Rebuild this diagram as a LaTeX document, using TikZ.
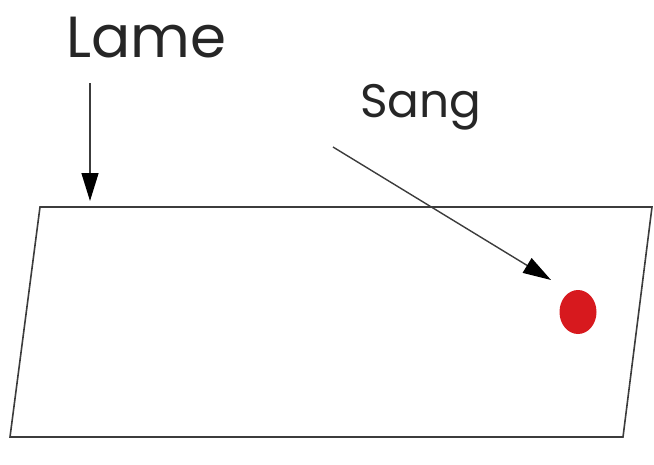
\documentclass[tikz,border=0pt]{standalone}
\usepackage{fontspec}
\setmainfont{Poppins}
\usetikzlibrary{arrows.meta,shapes.geometric}
\definecolor{inkgray}{RGB}{60,60,60}
\definecolor{blood}{RGB}{215,25,30}
\begin{document}
\begin{tikzpicture}[x=1pt,y=-1pt,
  outline/.style={draw=inkgray,line width=1.6pt,line join=miter},
  pointer/.style={draw=inkgray,line width=1.4pt,-{Triangle[length=28pt,width=17pt,color=black,fill=black]}},
  caption/.style={inner sep=0pt,anchor=base,text=black!85}]
  \useasboundingbox (0,0) rectangle (654,464);
  % glass slide drawn as a parallelogram
  \coordinate (tl) at (40,207);
  \coordinate (tr) at (652,207);
  \coordinate (br) at (623,437);
  \coordinate (bl) at (10,437);
  \draw[outline] (tl) -- (tr) -- (br) -- (bl) -- cycle;
  % blood drop
  \node[ellipse,fill=blood,minimum width=37pt,minimum height=44pt,inner sep=0pt] (drop) at (578,312) {};
  % labels
  \node[caption,font=\fontsize{58}{58}\selectfont] (lame) at (146,57) {Lame};
  \node[caption,font=\fontsize{47}{47}\selectfont] (sang) at (421,117) {Sang};
  \coordinate (lameA) at (90,83);
  \coordinate (lameB) at (90,201);
  \coordinate (sangA) at (333,147);
  \coordinate (sangB) at (551,280);
  \draw[pointer] (lameA) -- (lameB);
  \draw[pointer] (sangA) -- (sangB);
\end{tikzpicture}
\end{document}
